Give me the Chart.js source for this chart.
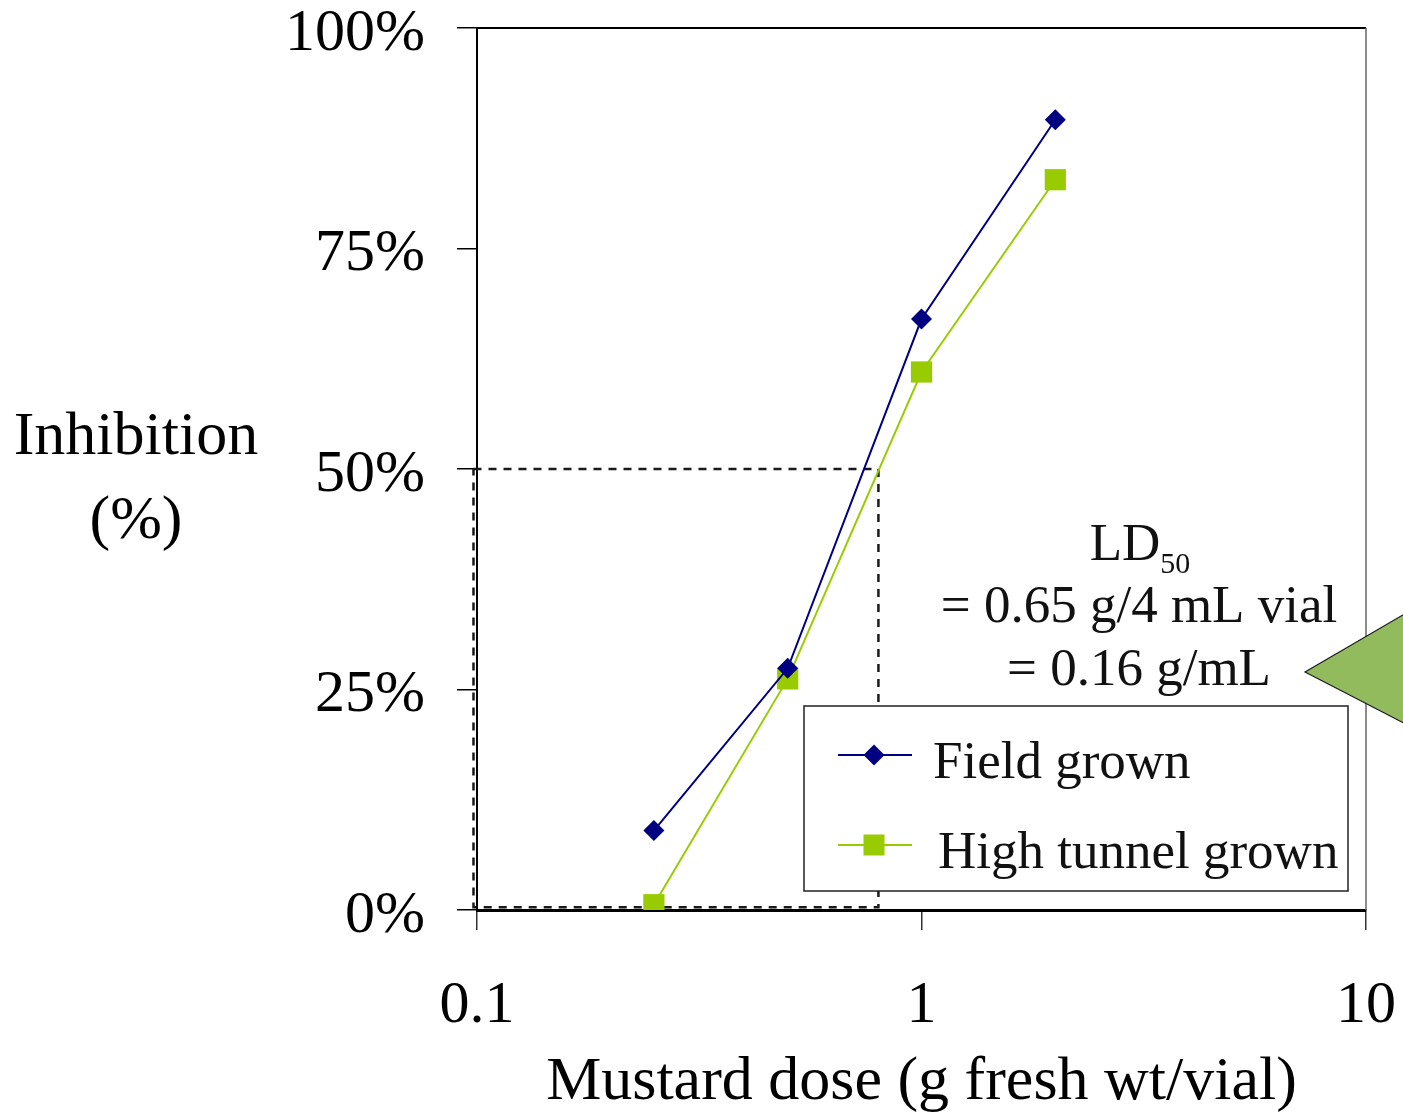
<!DOCTYPE html>
<html lang="en">
<head>
<meta charset="UTF-8">
<title>Mustard dose inhibition</title>
<script src="https://cdn.jsdelivr.net/npm/chart.js"></script>
<style>
  body { margin: 0; background: #fff; }
  #wrap { width: 1403px; height: 1115px; }
</style>
</head>
<body>
<div id="wrap"><canvas id="doseChart" width="1403" height="1115"></canvas></div>
<script>
// values
const doses = [0.25, 0.5, 1, 2];
const fieldGrown = [9, 27.4, 67, 89.6];
const tunnelGrown = [0.6, 26.2, 61, 82.8];
const guideX = [0.0982, 0.8, 0.8, 0.0982, 0.0982];
const guideY = [50, 50, 0.3, 0.3, 50];
const xTickValues = [0.1, 1, 10];
const seriesNames = ['Field grown', 'High tunnel grown'];
const yTitleLines = ['Inhibition', '(%)'];
const xTitle = 'Mustard dose (g fresh wt/vial)';
const ld50Lines = ['= 0.65 g/4 mL vial', '= 0.16 g/mL'];

const SERIF = '"Liberation Serif", "Times New Roman", serif';
const NAVY = '#000080';
const LIME = '#99cc00';

function pts(xs, ys) {
    return xs.map((x, i) => ({ x: x, y: ys[i] }));
}

function marker(ctx, style, x, y, color) {
    ctx.fillStyle = color;
    if (style === 'diamond') {
        ctx.beginPath();
        ctx.moveTo(x, y - 10.5);
        ctx.lineTo(x + 10.5, y);
        ctx.lineTo(x, y + 10.5);
        ctx.lineTo(x - 10.5, y);
        ctx.closePath();
        ctx.fill();
    } else {
        ctx.fillRect(x - 10.5, y - 10.5, 21, 21);
    }
}

const decorations = {
    id: 'decorations',
    beforeDatasetsDraw(chart) {
        const { ctx, chartArea: a } = chart;
        ctx.save();
        ctx.strokeStyle = '#000';
        ctx.lineWidth = 2;
        ctx.beginPath();
        ctx.moveTo(a.left, a.top);
        ctx.lineTo(a.right, a.top);
        ctx.stroke();
        ctx.strokeStyle = '#666';
        ctx.lineWidth = 1.5;
        ctx.beginPath();
        ctx.moveTo(a.right, a.top);
        ctx.lineTo(a.right, a.bottom);
        ctx.stroke();
        ctx.restore();
    },
    afterDraw(chart) {
        const ctx = chart.ctx;
        ctx.save();

        // y axis title, horizontal, two lines
        ctx.fillStyle = '#000';
        ctx.textAlign = 'center';
        ctx.textBaseline = 'alphabetic';
        ctx.font = '62px ' + SERIF;
        ctx.fillText(yTitleLines[0], 136, 454);
        ctx.fillText(yTitleLines[1], 136, 538);

        // legend box
        ctx.fillStyle = '#fff';
        ctx.fillRect(804, 706, 544, 185);
        ctx.strokeStyle = '#222';
        ctx.lineWidth = 1.5;
        ctx.strokeRect(804, 706, 544, 185);
        const rows = [
            { y: 755, color: NAVY, style: 'diamond', tx: 933, ty: 778 },
            { y: 845, color: LIME, style: 'square', tx: 938, ty: 868 }
        ];
        ctx.font = '53px ' + SERIF;
        ctx.textAlign = 'left';
        rows.forEach((r, i) => {
            ctx.strokeStyle = r.color;
            ctx.lineWidth = 2;
            ctx.beginPath();
            ctx.moveTo(838, r.y);
            ctx.lineTo(912, r.y);
            ctx.stroke();
            marker(ctx, r.style, 874, r.y, r.color);
            ctx.fillStyle = '#111';
            ctx.fillText(seriesNames[i], r.tx, r.ty);
        });

        // LD50 note
        ctx.fillStyle = '#111';
        ctx.font = '53px ' + SERIF;
        const ldW = ctx.measureText('LD').width;
        ctx.font = '30px ' + SERIF;
        const subW = ctx.measureText('50').width;
        const startX = 1140 - (ldW + subW) / 2;
        ctx.font = '53px ' + SERIF;
        ctx.fillText('LD', startX, 560);
        ctx.font = '30px ' + SERIF;
        ctx.fillText('50', startX + ldW, 573);
        ctx.font = '53px ' + SERIF;
        ctx.textAlign = 'center';
        ctx.fillText(ld50Lines[0], 1139, 622);
        ctx.fillText(ld50Lines[1], 1139, 685);

        // green pointer at the right edge
        ctx.fillStyle = '#92bb5e';
        ctx.strokeStyle = '#1a1a1a';
        ctx.lineWidth = 1.2;
        ctx.beginPath();
        ctx.moveTo(1305, 672);
        ctx.lineTo(1425, 602);
        ctx.lineTo(1425, 734);
        ctx.closePath();
        ctx.fill();
        ctx.stroke();

        ctx.restore();
    }
};

const ctx = document.getElementById('doseChart').getContext('2d');
new Chart(ctx, {
    type: 'scatter',
    data: {
        datasets: [
            {
                label: seriesNames[0],
                data: pts(doses, fieldGrown),
                showLine: true,
                borderColor: NAVY,
                backgroundColor: NAVY,
                borderWidth: 2,
                pointStyle: 'rectRot',
                pointRadius: 10.5,
                pointBorderWidth: 0,
                order: 1
            },
            {
                label: seriesNames[1],
                data: pts(doses, tunnelGrown),
                showLine: true,
                borderColor: LIME,
                backgroundColor: LIME,
                borderWidth: 2,
                pointStyle: 'rect',
                pointRadius: 15,
                pointBorderWidth: 0,
                order: 2
            },
            {
                label: 'LD50 guide',
                data: pts(guideX, guideY),
                showLine: true,
                borderColor: '#1a1a1a',
                borderWidth: 2.5,
                borderDash: [8, 7],
                pointRadius: 0,
                clip: false,
                order: 3
            }
        ]
    },
    options: {
        responsive: false,
        animation: false,
        layout: { padding: { left: 0, top: 28, right: 37, bottom: 0 } },
        plugins: {
            legend: { display: false },
            tooltip: { enabled: false }
        },
        scales: {
            x: {
                type: 'logarithmic',
                min: 0.1,
                max: 10,
                afterBuildTicks: (axis) => {
                    axis.ticks = xTickValues.map(v => ({ value: v }));
                },
                afterFit: (axis) => {
                    axis.height = 205;
                    axis.paddingLeft = 0;
                    axis.paddingRight = 0;
                },
                ticks: {
                    autoSkip: false,
                    maxRotation: 0,
                    padding: 40,
                    color: '#000',
                    font: { family: SERIF, size: 60 },
                    callback: (v) => String(v)
                },
                grid: {
                    drawOnChartArea: false,
                    drawTicks: true,
                    tickLength: 20,
                    color: '#333',
                    lineWidth: 1.5
                },
                border: { color: '#000', width: 3 },
                title: {
                    display: true,
                    text: xTitle,
                    color: '#000',
                    font: { family: SERIF, size: 62, lineHeight: 1 },
                    padding: { top: 0, bottom: 1 }
                }
            },
            y: {
                min: 0,
                max: 100,
                afterFit: (axis) => {
                    axis.width = 477;
                    axis.paddingTop = 0;
                    axis.paddingBottom = 0;
                },
                ticks: {
                    stepSize: 25,
                    padding: 32,
                    labelOffset: 6,
                    color: '#000',
                    font: { family: SERIF, size: 60 },
                    callback: (v) => v + '%'
                },
                grid: {
                    drawOnChartArea: false,
                    drawTicks: true,
                    tickLength: 20,
                    color: '#000',
                    lineWidth: 1.5
                },
                border: { color: '#000', width: 2 }
            }
        }
    },
    plugins: [decorations]
});
</script>
</body>
</html>
